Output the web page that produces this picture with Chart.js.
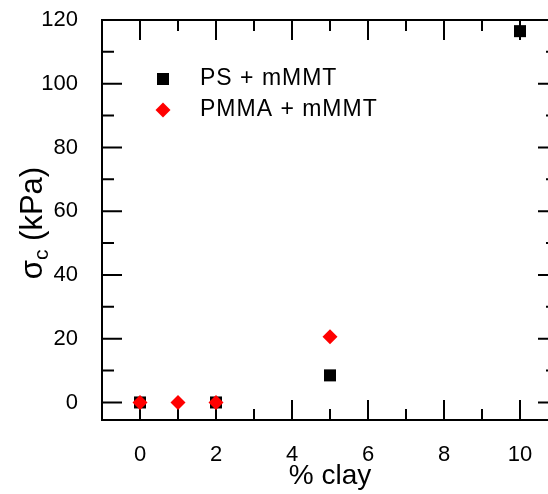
<!DOCTYPE html>
<html>
<head>
<meta charset="utf-8">
<script src="https://cdn.jsdelivr.net/npm/chart.js@4.4.1/dist/chart.umd.min.js"></script>
<style>
  html, body { margin: 0; padding: 0; background: #fff; overflow: hidden; }
  #wrap { width: 548px; height: 494px; overflow: hidden; }
</style>
</head>
<body>
<div id="wrap"><canvas id="c" width="560" height="494"></canvas></div>
<script>
  // values
  const psClay = [0, 2, 5, 10];
  const psSigma = [0, 0, 8.5, 116.5];
  const pmmaClay = [0, 1, 2, 5];
  const pmmaSigma = [0, 0, 0, 20.6];
  const seriesNames = ['PS + mMMT', 'PMMA + mMMT'];
  const xTicks = [0, 2, 4, 6, 8, 10];
  const xMinor = [1, 3, 5, 7, 9];
  const yTicks = [0, 20, 40, 60, 80, 100, 120];
  const yMinor = [10, 30, 50, 70, 90, 110];
  const xTitle = '% clay';
  const yTitleParts = ['σ', 'c', ' (kPa)'];

  const FONT = '"Liberation Sans", Arial, sans-serif';

  const pts = (xs, ys) => xs.map((v, i) => ({x: v, y: ys[i]}));

  // box round the plot with inward ticks on all four sides
  const frame = {
    id: 'frame',
    beforeDatasetsDraw(chart) {
      const {ctx, chartArea: a, scales: {x, y}} = chart;
      ctx.save();
      ctx.strokeStyle = '#000';
      ctx.lineWidth = 2;
      ctx.strokeRect(a.left, a.top, a.right - a.left, a.bottom - a.top);
      ctx.beginPath();
      const xt = (v, len) => {
        const px = x.getPixelForValue(v);
        ctx.moveTo(px, a.bottom); ctx.lineTo(px, a.bottom - len);
        ctx.moveTo(px, a.top); ctx.lineTo(px, a.top + len);
      };
      const yt = (v, len) => {
        const py = y.getPixelForValue(v);
        ctx.moveTo(a.left, py); ctx.lineTo(a.left + len, py);
        ctx.moveTo(a.right, py); ctx.lineTo(a.right - len, py);
      };
      xTicks.forEach(v => xt(v, 20));
      xMinor.forEach(v => xt(v, 11));
      yTicks.forEach(v => yt(v, 20));
      yMinor.forEach(v => yt(v, 12));
      ctx.stroke();
      ctx.restore();
    }
  };

  // legend inside the plot, top left
  const legendBox = {
    id: 'legendBox',
    afterDatasetsDraw(chart) {
      const {ctx, chartArea: a} = chart;
      ctx.save();
      chart.data.datasets.forEach((ds, i) => {
        const py = a.top + 59 + i * 31;
        ctx.fillStyle = ds.backgroundColor;
        Chart.helpers.drawPoint(ctx, {pointStyle: ds.pointStyle, radius: ds.pointRadius, rotation: 0, borderWidth: 0}, a.left + 61, py);
        ctx.fillStyle = '#000';
        ctx.font = '23px ' + FONT;
        ctx.letterSpacing = '1px';
        ctx.textAlign = 'left';
        ctx.textBaseline = 'middle';
        ctx.fillText(ds.label, a.left + 98, py);
      });
      ctx.restore();
    }
  };

  // y title with subscript c
  const yTitle = {
    id: 'yTitle',
    afterDraw(chart) {
      const {ctx, chartArea: a} = chart;
      const big = '31px ' + FONT, small = '21px ' + FONT;
      ctx.save();
      ctx.fillStyle = '#000';
      ctx.textBaseline = 'alphabetic';
      ctx.font = big;
      const w0 = ctx.measureText(yTitleParts[0]).width;
      const w2 = ctx.measureText(yTitleParts[2]).width;
      ctx.font = small;
      const w1 = ctx.measureText(yTitleParts[1]).width;
      const total = w0 + w1 + w2;
      ctx.translate(42, (a.top + a.bottom) / 2 + 3);
      ctx.rotate(-Math.PI / 2);
      let cx = -total / 2;
      ctx.font = big;
      ctx.fillText(yTitleParts[0], cx, 0);
      cx += w0;
      ctx.font = small;
      ctx.fillText(yTitleParts[1], cx, 6);
      cx += w1;
      ctx.font = big;
      ctx.fillText(yTitleParts[2], cx, 0);
      ctx.restore();
    }
  };

  new Chart(document.getElementById('c'), {
    type: 'scatter',
    data: {
      datasets: [
        {label: seriesNames[0], data: pts(psClay, psSigma), pointStyle: 'rect', pointRadius: 8.5,
         backgroundColor: '#000', borderWidth: 0, order: 1},
        {label: seriesNames[1], data: pts(pmmaClay, pmmaSigma), pointStyle: 'rectRot', pointRadius: 7.5,
         backgroundColor: '#ff0000', borderWidth: 0, order: 0}
      ]
    },
    options: {
      responsive: false,
      animation: false,
      events: [],
      layout: {autoPadding: false, padding: {top: 20, right: 2, left: 0, bottom: 0}},
      plugins: {legend: {display: false}, tooltip: {enabled: false}},
      scales: {
        x: {
          type: 'linear', min: -1, max: 11,
          grid: {display: false, drawTicks: false},
          border: {display: false},
          afterBuildTicks: s => { s.ticks = xTicks.map(v => ({value: v})); },
          afterFit: s => { s.height = 74; s.paddingLeft = 0; s.paddingRight = 0; },
          ticks: {color: '#000', font: {family: FONT, size: 22}, padding: 22, maxRotation: 0, autoSkip: false},
          title: {display: true, text: xTitle, color: '#000', font: {family: FONT, size: 28}, padding: {top: 0, bottom: 1}}
        },
        y: {
          type: 'linear', min: -5.5, max: 120,
          grid: {display: false, drawTicks: false},
          border: {display: false},
          afterBuildTicks: s => { s.ticks = yTicks.map(v => ({value: v})); },
          afterFit: s => { s.width = 102; s.paddingTop = 0; s.paddingBottom = 0; },
          ticks: {color: '#000', font: {family: FONT, size: 22}, padding: 24, autoSkip: false}
        }
      }
    },
    plugins: [frame, legendBox, yTitle]
  });
</script>
</body>
</html>
